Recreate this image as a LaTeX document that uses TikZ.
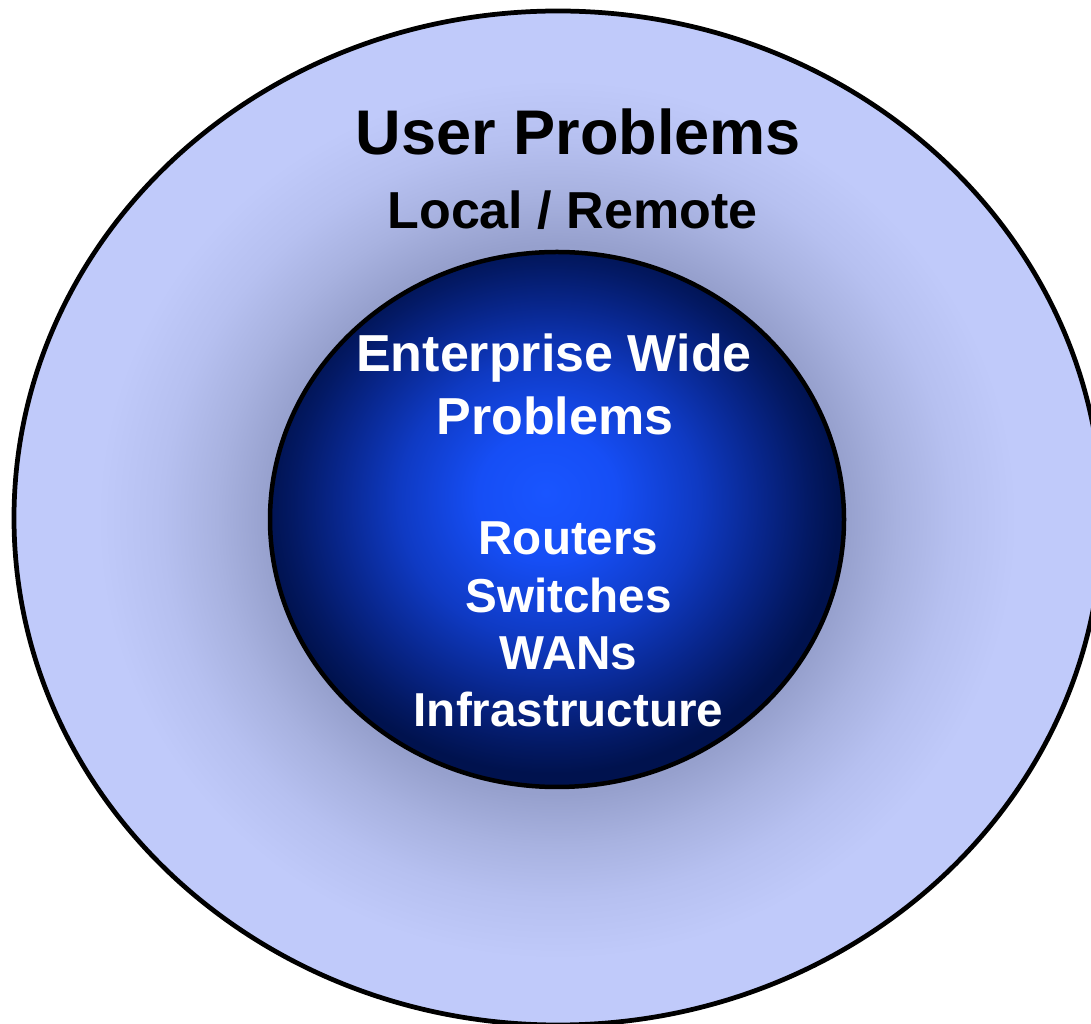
\documentclass[tikz,border=0pt]{standalone}
\usepackage{fontspec}
\setmainfont{Liberation Sans}

\definecolor{ringfill}{RGB}{192,202,250}
\definecolor{ringmidb}{RGB}{182,192,240}
\definecolor{ringmid}{RGB}{168,178,224}
\definecolor{ringhalo}{RGB}{150,160,205}
\definecolor{corehi}{RGB}{25,85,255}
\definecolor{coreA}{RGB}{22,78,245}
\definecolor{coreB}{RGB}{15,58,195}
\definecolor{coreC}{RGB}{8,38,140}
\definecolor{coreD}{RGB}{3,25,100}
\definecolor{corelo}{RGB}{0,18,78}

% the path edge sits at 25bp of the shading
\pgfdeclareradialshading{halo}{\pgfpoint{0bp}{0bp}}{%
  color(0bp)=(ringhalo); color(15.6bp)=(ringhalo); color(18.5bp)=(ringmid);
  color(21.5bp)=(ringmidb); color(25bp)=(ringfill); color(50bp)=(ringfill)}
\pgfdeclareradialshading{core}{\pgfpoint{-1bp}{2.5bp}}{%
  color(0bp)=(corehi); color(6bp)=(coreA); color(13bp)=(coreB);
  color(18.5bp)=(coreC); color(22.5bp)=(coreD); color(25bp)=(corelo);
  color(50bp)=(corelo)}

\begin{document}
\begin{tikzpicture}[x=0.2mm, y=0.2mm,
    every node/.style={inner sep=0pt, anchor=base},
    ringlabel/.style={text=black, font=\bfseries\fontsize{35.9}{40}\selectfont},
    ringsub/.style={text=black, font=\bfseries\fontsize{29.6}{34}\selectfont},
    corelabel/.style={text=white, font=\bfseries\fontsize{29.6}{34}\selectfont},
    coreitem/.style={text=white, font=\bfseries\fontsize{27.1}{32}\selectfont}]
  \useasboundingbox (0,0) rectangle (1091,1023);
  \clip (0,0) rectangle (1091,1023);

  %% ---------- OUTER: user problems ring ----------
  \fill[ringfill] (558,505) ellipse [x radius=544, y radius=507];
  \shade[shading=halo] (557,503.5) ellipse [x radius=460, y radius=440];
  \draw[line width=0.95mm] (558,505) ellipse [x radius=544, y radius=507];

  \node[ringlabel] (user)  at (578.5,868) {User Problems};
  \node[ringsub]   (local) at (572.5,794) {Local / Remote};

  %% ---------- INNER: enterprise core ----------
  \shadedraw[shading=core, line width=0.9mm]
    (557,503.5) ellipse [x radius=287, y radius=267.5];

  \node[corelabel] (ent)  at (554,651) {Enterprise Wide};
  \node[corelabel] (prob) at (555,588) {Problems};

  % items
  \foreach \n/\t/\y in {routers/Routers/468, switches/Switches/410,
                         wans/WANs/353, infra/Infrastructure/296}
    \node[coreitem] (\n) at (568.5,\y) {\t};
\end{tikzpicture}
\end{document}
